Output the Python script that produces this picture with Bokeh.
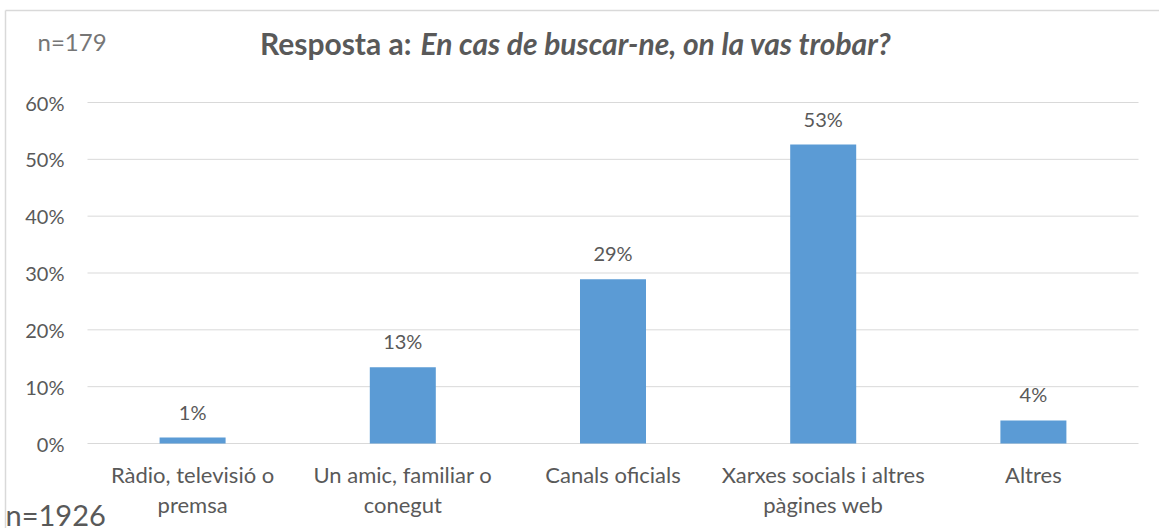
from bokeh.plotting import figure
from bokeh.models import ColumnDataSource, LabelSet, Label, Range1d
from bokeh.core.properties import value
from bokeh.embed import file_html
from bokeh.resources import INLINE

# ---- data ----
categories = ["Ràdio, televisió o\npremsa", "Un amic, familiar o\nconegut", "Canals oficials",
              "Xarxes socials i altres\npàgines web", "Altres"]
values = [1.05, 13.4, 28.9, 52.6, 4.05]
y_ticks = [0, 10, 20, 30, 40, 50, 60]
title_bold = "Resposta a:"
title_italic = "En cas de buscar-ne, on la vas trobar?"
note_top = "n=179"
note_bottom = "n=1926"

# ---- layout (pixels) ----
W, H = 1159, 528
PLOT_L, PLOT_R, PLOT_T, PLOT_B = 87, 1138, 102, 443   # plot area in the canvas
n = len(categories)
px_per_cat = (PLOT_R - PLOT_L) / n
px_per_pct = (PLOT_B - PLOT_T) / (max(y_ticks) - min(y_ticks))

def dx(px):  # canvas px -> x data
    return (px - PLOT_L) / px_per_cat

def dy(py):  # canvas px -> y data
    return (PLOT_B - py) / px_per_pct

FONT = "Lato"
GRAY = "#595959"
GRID = "#d9d9d9"

xs = [i + 0.5 for i in range(n)]
line1 = [c.split("\n")[0] for c in categories]
line2 = [c.split("\n")[1] if "\n" in c else "" for c in categories]

bars = ColumnDataSource(dict(x=xs, val=values, lab=[f"{v:.0f}%" for v in values]))
cats = ColumnDataSource(dict(x=xs, l1=line1, l2=line2,
                             y1=[dy(482)] * n, y2=[dy(512)] * n))
ticks = ColumnDataSource(dict(y=y_ticks, x=[dx(64)] * len(y_ticks),
                              x0=[0] * len(y_ticks), x1=[n] * len(y_ticks),
                              lab=[f"{t}%" for t in y_ticks]))

p = figure(width=W, height=H, x_range=Range1d(dx(0), dx(W)), y_range=Range1d(dy(H), dy(0)),
           x_axis_type=None, y_axis_type=None, output_backend="svg", toolbar_location=None,
           min_border=0)
p.outline_line_color = None
p.xgrid.grid_line_color = None
p.ygrid.grid_line_color = None

# chart-frame border (top and left edges visible)
p.segment(x0=[dx(5), dx(5)], y0=[dy(10), dy(10)], x1=[dx(W), dx(5)], y1=[dy(10), dy(H)],
          line_color=GRID, line_width=1.5)

# gridlines
p.segment(x0="x0", x1="x1", y0="y", y1="y", source=ticks, line_color=GRID, line_width=1)

# bars
p.vbar(x="x", top="val", width=0.314, source=bars, fill_color="#5B9BD5", line_color=None)

# y tick labels
p.add_layout(LabelSet(x="x", y="y", text="lab", source=ticks, text_align="right",
                      text_baseline="middle", text_font=value(FONT), text_font_size="20px",
                      text_color=GRAY))
# category labels
p.add_layout(LabelSet(x="x", y="y1", text="l1", source=cats, text_align="center",
                      text_baseline="alphabetic", text_font=value(FONT), text_font_size="22px",
                      text_color=GRAY))
p.add_layout(LabelSet(x="x", y="y2", text="l2", source=cats, text_align="center",
                      text_baseline="alphabetic", text_font=value(FONT), text_font_size="22px",
                      text_color=GRAY))
# value labels
p.add_layout(LabelSet(x="x", y="val", text="lab", source=bars, text_align="center",
                      text_baseline="alphabetic", y_offset=18, text_font=value(FONT),
                      text_font_size="20px", text_color=GRAY))

# title
p.add_layout(Label(x=dx(411), y=dy(60), text=title_bold, text_align="right", text_font=FONT,
                   text_font_style="bold", text_font_size="30px", text_color=GRAY))
p.add_layout(Label(x=dx(420), y=dy(60), text=title_italic, text_align="left", text_font=FONT,
                   text_font_style="bold italic", text_font_size="30px", text_color=GRAY))
# notes
p.add_layout(Label(x=dx(37), y=dy(55), text=note_top, text_align="left", text_font=FONT,
                   text_font_size="24px", text_color="#767676"))
p.add_layout(Label(x=dx(5), y=dy(531), text=note_bottom, text_align="left", text_font=FONT,
                   text_font_size="29px", text_color=GRAY))

open("out.html", "w").write(file_html(p, INLINE))
